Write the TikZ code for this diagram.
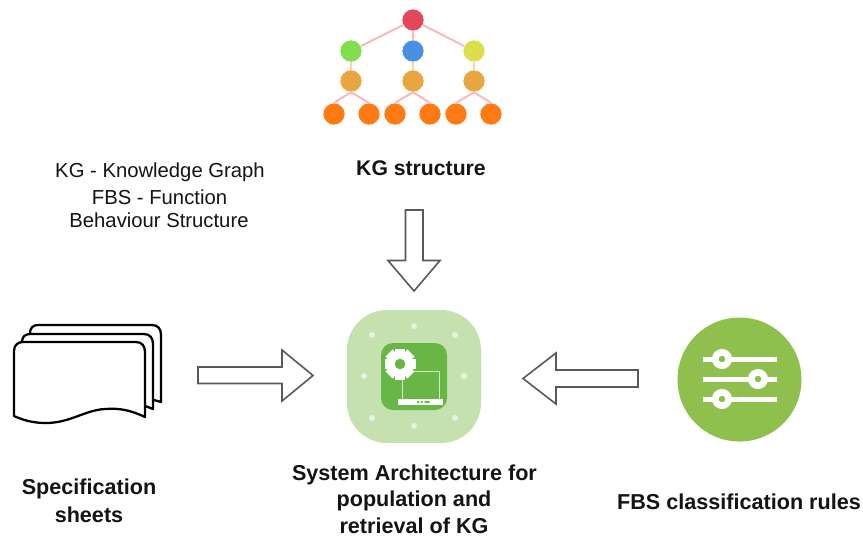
\documentclass[tikz,border=0pt]{standalone}
\usepackage{fontspec}
\setmainfont{Liberation Sans}
\definecolor{tred}{HTML}{E2475A}
\definecolor{tgreen}{HTML}{7FDF4C}
\definecolor{tblue}{HTML}{4A90E2}
\definecolor{tyellow}{HTML}{DDDF4A}
\definecolor{tamber}{HTML}{E9A53F}
\definecolor{torange}{HTML}{FF7A12}
\definecolor{tileback}{HTML}{C5E1AF}
\definecolor{tilefront}{HTML}{67B646}
\definecolor{dial}{HTML}{8FC04E}
\definecolor{ink}{HTML}{141414}
\tikzset{
  x=0.75pt,y=-0.75pt,
  tree/.style={circle,minimum size=16.5pt,inner sep=0pt,fill=#1,draw=white,line width=0.4pt},
  redge/.style={draw=red!28,line width=1.5pt},
  tedge/.style={draw=orange!35,line width=1.5pt},
  plain/.style={font=\fontsize{15.2}{18}\selectfont,text=ink,inner sep=0pt,align=center},
  heading/.style={font=\bfseries\fontsize{16.2}{18}\selectfont,text=ink,inner sep=0pt,align=center},
  blockarrow/.style={draw=black!65,line width=1.2pt,fill=white,line join=miter},
  sheet/.style={draw=black,line width=1.7pt,fill=white,line join=round},
  dot/.style={circle,fill=white,fill opacity=.6,minimum size=4.5pt,inner sep=0pt},
  slider/.style={draw=white,line width=3.75pt},
  knob/.style={circle,fill=dial,draw=white,line width=5pt,minimum size=10pt,inner sep=0pt},
}
\begin{document}
\begin{tikzpicture}
\useasboundingbox[fill=white] (0,0) rectangle (863,537);
% KG tree
\node[tree=tred] (root) at (413,20) {};
\node[tree=tgreen] (f1) at (351,51) {};
\node[tree=tblue] (f2) at (413,51) {};
\node[tree=tyellow] (f3) at (474,51) {};
\node[tree=tamber] (g1) at (351,81) {};
\node[tree=tamber] (g2) at (413,81) {};
\node[tree=tamber] (g3) at (474,81) {};
\node[tree=torange] (h1) at (334,114) {};
\node[tree=torange] (h2) at (369,114) {};
\node[tree=torange] (h3) at (395,114) {};
\node[tree=torange] (h4) at (430,114) {};
\node[tree=torange] (h5) at (456,114) {};
\node[tree=torange] (h6) at (491,114) {};
\draw[redge] (root)--(f1) (root)--(f2) (root)--(f3);
\draw[tedge] (f1)--(g1) (f2)--(g2) (f3)--(g3);
\draw[redge] (g1.south)--(h1.north) (g1.south)--(h2.north) (g2.south)--(h3.north) (g2.south)--(h4.north) (g3.south)--(h5.north) (g3.south)--(h6.north);
% Texts
\node[heading,font=\bfseries\fontsize{15.9}{18}\selectfont] (kgs) at (421,168) {KG structure};
\node[plain] (l1) at (160,172) {KG - Knowledge Graph};
\node[plain] (l2) at (159.5,197) {FBS - Function};
\node[plain] (l3) at (159,220) {Behaviour Structure};
\node[heading] (s1) at (89,488.5) {Specification};
\node[heading] (s2) at (89,514.5) {sheets};
\node[heading] (a1) at (414.5,474.5) {System Architecture for};
\node[heading] (a2) at (414,501) {population and};
\node[heading] (a3) at (414,526) {retrieval of KG};
\node[heading] (r) at (739,501.5) {FBS classification rules};
% Block arrows
\draw[blockarrow] (405.5,210)--(423,210)--(423,260.5)--(440,260.5)--(414,291)--(388,260.5)--(405.5,260.5)--cycle;
\draw[blockarrow] (198,367)--(282,367)--(282,350)--(313,375.5)--(282,401)--(282,383.5)--(198,383.5)--cycle;
\draw[blockarrow] (638,370)--(556,370)--(556,353)--(523,378.5)--(556,404)--(556,387)--(638,387)--cycle;
% Sheets
\draw[sheet] (30,345) -- (30,333) .. controls (30,328) and (33,325) .. (38,325) -- (152,325) .. controls (158,325) and (161,329) .. (161,335) -- (161,402) -- (140,396) -- cycle;
\draw[sheet] (22,355) -- (22,342) .. controls (22,337) and (25,334) .. (30,334) -- (144,334) .. controls (150,334) and (153,338) .. (153,344) -- (153,409) -- (135,402) -- cycle;
\draw[sheet] (14,416) -- (14,351) .. controls (14,345) and (18,342) .. (23,342) -- (136,342) .. controls (142,342) and (145,346) .. (145,352) -- (145,417) .. controls (130,410) and (120,408) .. (105,409) .. controls (85,410) and (70,423) .. (46,423) .. controls (35,423) and (25,421) .. (14,416) -- cycle;
% Architecture tile
\fill[tileback,rounded corners=30pt] (347,310) rectangle (481,443);
\foreach \x/\y in {414/326,372/335,455/335,364/376,464/376,372/418,455/418,414/426}
  \node[dot] at (\x,\y) {};
\fill[tilefront,rounded corners=9pt] (381,343) rectangle (447,410);
\draw[white,opacity=.7,line width=.4pt] (402,400)--(402,371)--(439,371)--(439,400);
\fill[white] (398,399) rectangle (443,404.5);
\fill[tilefront] (417,401) rectangle (419,403) (420.5,401) rectangle (422.5,403) (424.5,401) rectangle (429.5,403);
\fill[white] (400,364) circle (11.5);
\foreach \a in {0,45,...,315}
  \fill[white,rotate around={\a:(400,364)}] (395,348.5) rectangle (405,356);
\fill[tilefront] (400,364) circle (5.3);
% Dial
\node[circle,fill=dial,minimum size=93pt,inner sep=0pt] (d) at (739.5,379.5) {};
\draw[slider] (703,359)--(777,359);
\draw[slider] (703,379)--(777,379);
\draw[slider] (703,399)--(777,399);
\node[knob] at (722,359) {};
\node[knob] at (758,379) {};
\node[knob] at (722,399) {};
\end{tikzpicture}
\end{document}
